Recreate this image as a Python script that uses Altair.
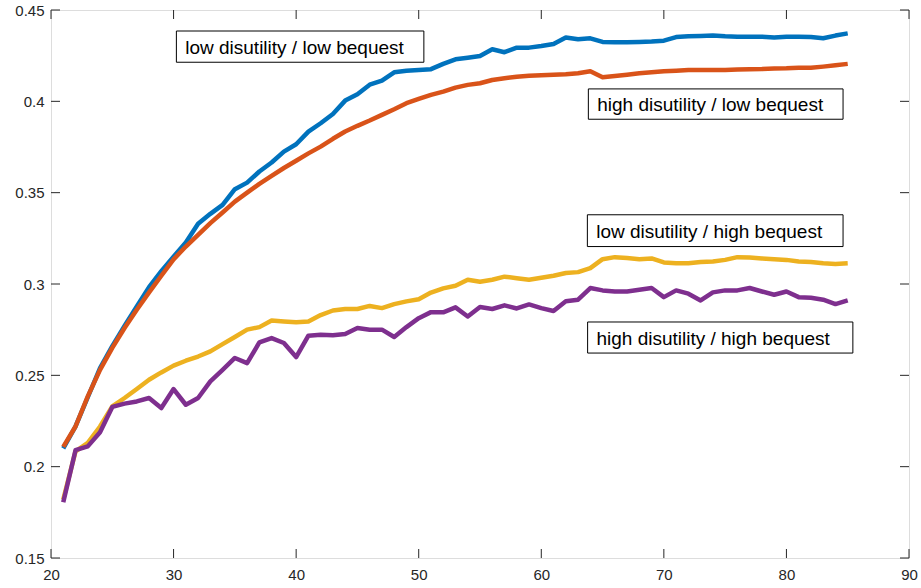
import altair as alt
import pandas as pd

ages = list(range(21, 86))

low_dis_low_beq = [
    0.210, 0.222, 0.238, 0.254, 0.266, 0.277, 0.2877, 0.2983, 0.307, 0.315,
    0.3227, 0.333, 0.3384, 0.3433, 0.3519, 0.3555, 0.3616, 0.3665, 0.3725, 0.3765,
    0.3834, 0.388, 0.3931, 0.4004, 0.4039, 0.4091, 0.4113, 0.4159, 0.4168, 0.4172,
    0.4176, 0.4205, 0.423, 0.4239, 0.4248, 0.4285, 0.4269, 0.4294, 0.4294, 0.4303,
    0.4314, 0.435, 0.434, 0.4345, 0.4325, 0.4323, 0.4324, 0.4325, 0.4327, 0.4332,
    0.4352, 0.4356, 0.4358, 0.4361, 0.4356, 0.4354, 0.4354, 0.4354, 0.435, 0.4354,
    0.4354, 0.4352, 0.4345, 0.436, 0.4372]

high_dis_low_beq = [
    0.2108, 0.222, 0.2385, 0.253, 0.265, 0.2759, 0.2859, 0.2954, 0.3045, 0.3135,
    0.3205, 0.3269, 0.3333, 0.3391, 0.3451, 0.350, 0.3548, 0.3592, 0.3635, 0.3675,
    0.3715, 0.3752, 0.3795, 0.3835, 0.3866, 0.3895, 0.3926, 0.3957, 0.399, 0.4013,
    0.4035, 0.4053, 0.4075, 0.409, 0.4099, 0.4117, 0.4126, 0.4135, 0.414, 0.4143,
    0.4145, 0.4148, 0.4154, 0.4165, 0.4132, 0.4139, 0.4146, 0.4154, 0.4159, 0.4165,
    0.4168, 0.4172, 0.4172, 0.4172, 0.4172, 0.4174, 0.4176, 0.4177, 0.418, 0.4181,
    0.4184, 0.4184, 0.419, 0.4197, 0.4205]

low_dis_high_beq = [
    0.182, 0.2084, 0.213, 0.222, 0.233, 0.2376, 0.2425, 0.2476, 0.2516, 0.2553,
    0.258, 0.2603, 0.2631, 0.2671, 0.271, 0.275, 0.2764, 0.280, 0.2795, 0.279,
    0.2795, 0.283, 0.2855, 0.2863, 0.2863, 0.288, 0.2868, 0.289, 0.2905, 0.2917,
    0.2953, 0.2976, 0.299, 0.3023, 0.3012, 0.3023, 0.304, 0.3032, 0.3023, 0.3034,
    0.3045, 0.306, 0.3065, 0.3087, 0.3136, 0.3147, 0.3142, 0.3136, 0.314, 0.3118,
    0.3114, 0.3114, 0.3121, 0.3123, 0.3132, 0.3147, 0.3145, 0.314, 0.3136, 0.3132,
    0.3123, 0.3121, 0.3114, 0.311, 0.3114]

high_dis_high_beq = [
    0.1805, 0.209, 0.2111, 0.2188, 0.2327, 0.2345, 0.2357, 0.2376, 0.2321, 0.2425,
    0.2339, 0.2376, 0.2467, 0.253, 0.2595, 0.2567, 0.268, 0.2704, 0.2677, 0.2600,
    0.2717, 0.2722, 0.272, 0.2726, 0.2759, 0.275, 0.275, 0.271, 0.2764, 0.2813,
    0.2846, 0.2845, 0.2872, 0.2822, 0.2874, 0.2863, 0.2883, 0.2866, 0.2888, 0.2868,
    0.2852, 0.2905, 0.2914, 0.2978, 0.2965, 0.2959, 0.2959, 0.2968, 0.2978, 0.2928,
    0.2965, 0.2947, 0.291, 0.2954, 0.2965, 0.2965, 0.2978, 0.2959, 0.2941, 0.2959,
    0.2928, 0.2925, 0.2914, 0.289, 0.291]

series_names = ["low disutility / low bequest", "high disutility / low bequest",
                "low disutility / high bequest", "high disutility / high bequest"]
series_values = [low_dis_low_beq, high_dis_low_beq, low_dis_high_beq, high_dis_high_beq]
series_colors = ["#0072BD", "#D95319", "#EDB120", "#7E2F8E"]

# annotation boxes (data coordinates)
box_x0 = [30.23, 63.84, 63.76, 63.78]
box_x1 = [50.42, 84.62, 84.62, 85.42]
box_ytop = [0.4385, 0.4068, 0.3379, 0.2792]
box_ybot = [0.4214, 0.3902, 0.3205, 0.2622]

x_ticks = [20, 30, 40, 50, 60, 70, 80, 90]
y_ticks = [0.15, 0.2, 0.25, 0.3, 0.35, 0.4, 0.45]

W, H = 858, 548
FONT = "Liberation Sans"
AX = "#262626"

xscale = alt.Scale(domain=[20, 90], nice=False, zero=False)
yscale = alt.Scale(domain=[0.15, 0.45], nice=False, zero=False)

xa = alt.Axis(values=x_ticks, format="d", domain=False, ticks=False, grid=False,
              labelFont=FONT, labelFontSize=15, labelColor=AX, labelPadding=9,
              title=None, labelFlush=False)
ya = alt.Axis(values=y_ticks, format="~g", domain=False, ticks=False, grid=False,
              labelFont=FONT, labelFontSize=15, labelColor=AX, labelPadding=7,
              title=None, labelFlush=False)

layers = []
for name, vals, col in zip(series_names, series_values, series_colors):
    df = pd.DataFrame({"age": ages, "v": vals})
    layers.append(
        alt.Chart(df).mark_line(color=col, strokeWidth=4.5, strokeJoin="round").encode(
            x=alt.X("age:Q", scale=xscale, axis=xa),
            y=alt.Y("v:Q", scale=yscale, axis=ya),
        )
    )

boxes = pd.DataFrame({"x0": box_x0, "x1": box_x1, "yt": box_ytop, "yb": box_ybot,
                      "label": series_names})
boxes["tx"] = boxes["x0"] + 0.72
boxes["ty"] = (boxes["yt"] + boxes["yb"]) / 2

rects = alt.Chart(boxes).mark_rect(fill="white", stroke="black", strokeWidth=1).encode(
    x=alt.X("x0:Q", scale=xscale, axis=xa), x2="x1:Q",
    y=alt.Y("yt:Q", scale=yscale, axis=ya), y2="yb:Q")
texts = alt.Chart(boxes).mark_text(align="left", baseline="middle", font=FONT,
                                    fontSize=19, color="black", dy=1).encode(
    x=alt.X("tx:Q", scale=xscale, axis=xa),
    y=alt.Y("ty:Q", scale=yscale, axis=ya),
    text="label:N")

ydf = pd.DataFrame({"v": y_ticks})
xdf = pd.DataFrame({"v": x_ticks})
tick_kw = dict(color=AX, strokeWidth=1)
lt = alt.Chart(ydf).mark_rule(**tick_kw).encode(
    y=alt.Y("v:Q", scale=yscale, axis=ya), x=alt.value(0), x2=alt.value(9))
rt = alt.Chart(ydf).mark_rule(**tick_kw).encode(
    y=alt.Y("v:Q", scale=yscale, axis=ya), x=alt.value(W), x2=alt.value(W - 9))
bt = alt.Chart(xdf).mark_rule(**tick_kw).encode(
    x=alt.X("v:Q", scale=xscale, axis=xa), y=alt.value(H), y2=alt.value(H - 9))
tt = alt.Chart(xdf).mark_rule(**tick_kw).encode(
    x=alt.X("v:Q", scale=xscale, axis=xa), y=alt.value(0), y2=alt.value(9))

chart = alt.layer(*layers, rects, texts, lt, rt, bt, tt).properties(
    width=W, height=H,
    autosize=alt.AutoSizeParams(type="none"),
    padding={"left": 51, "top": 10, "right": 12, "bottom": 30},
).configure_view(stroke=AX, strokeWidth=1).configure(background="white")

chart.save("out.html", embed_options={"renderer": "svg", "actions": False})
